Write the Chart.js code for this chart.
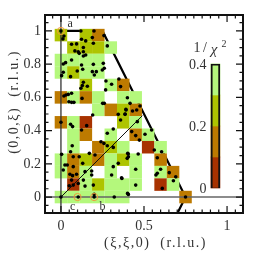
<!DOCTYPE html>
<html>
<head>
<meta charset="utf-8">
<style>
  html, body { margin: 0; padding: 0; background: #fff; }
  canvas { display: block; }
</style>
<script src="https://cdn.jsdelivr.net/npm/chart.js@4/dist/chart.umd.min.js"></script>
</head>
<body>
<canvas id="chart" width="253" height="254"></canvas>
<script>
// Celdas: una fila por cada xi, valores de 1/chi^2 (null = sin celda)
const cellCols = [0, 0.075, 0.15, 0.225, 0.3, 0.375, 0.45, 0.525, 0.6, 0.675, 0.75];
const cellRows = [0.975, 0.9, 0.825, 0.75, 0.675, 0.6, 0.525, 0.45, 0.375, 0.3, 0.225, 0.15, 0.075, 0];
const G = 0.35, Y = 0.25, O = 0.15, R = 0.05, _ = null;
const cellValues = [
    [Y, _, Y, O],
    [_, Y, Y, Y, G],
    [G, G, G, G],
    [G, Y, G, G],
    [_, _, Y, _, G, O],
    [O, G, O, G, _, G, G],
    [_, _, _, G, O, Y, O],
    [O, G, R, _, _, Y, G],
    [_, G, O, _, G, _, O, G],
    [_, G, _, O, Y, G, _, R, G],
    [G, O, Y, O, G, Y, G, _, O],
    [G, O, G, _, G, _, G, _, G, O],
    [_, R, G, Y, G, G, G, _, R, G],
    [G, G, G, G, G, G, _, _, _, _, O]
];

// Puntos medidos
const dotX = [0, .018, .012, .12, .199, .124, .149, .189, .259, .279, .064, .094, .084, .104, .135, .135, .11, .195,
    .064, .028, .014, .149, .135, .014, .004, .124, .131, .098, .195, .255, .261, .249, .189, .213, .201, .058,
    .135, .129, .12, .159, .271, .305, .269, .349, .359, .4, .064, .044, .03, .018, .048, .064, .078, .127, .251, .261,
    .345, .386, .392, .191, 0, .058, .07, .155, .124, .279, .315, .359, .068, .058, .004, .171, .11, .074, .205,
    .241, .259, .279, .315, .345, .402, .406, .038, .024, .014, .054, .07, .094, .074, .131, .145, .185, .185, .305,
    .365, .315, .074, .05, .064, .104, .145, .195, .135, 0, .104, .2, .2, .321, .406,
    .416, .391, .386, .431, .456, .476, .46, .426, .506, .45, .472, .546,
    .562, .606, .58, .58, .572, .6, .652, .691, .677, .61, .45, .45, .367, .401, .75, .465, .405, .399];
const dotY = [1, .97, .952, 1, 1, .95, .94, .96, .972, .91, .92, .922, .88, .875, .9, .875, .865, .926,
    .825, .809, .801, .855, .849, .751, .731, .795, .769, .759, .799, .805, .775, .765, .755, .755, .735, .725,
    .691, .671, .655, .667, .699, .679, .645, .711, .665, .598, .625, .618, .614, .608, .574, .57, .57, .594, .564, .564,
    .498, .498, .524, .494, .45, .438, .424, .43, .404, .384, .41, .464, .309, .273, .257, .263, .243, .243, .253,
    .333, .323, .309, .299, .203, .263, .243, .193, .193, .163, .137, .129, .137, .183, .203, .153, .157, .133, .133,
    .116, .183, .072, .068, .102, .082, .066, .072, .102, 0, 0, 0, .016, 0, .016,
    .564, .528, .5, .518, .524, .548, .454, .394, .378, .37, .343, .404,
    .283, .273, .237, .143, .133, .167, .147, .122, .098, .052, .167, .072, .112, .022, 0, .259, .259, .233];

// Puntos marcados con circulo naranja
const ringX = [0, 0.1, 0.2];
const ringY = [1, 0, 0];

// Lineas guia
const zoneX = [0, 0.25, 0.75, 0.7];
const zoneY = [1, 1, 0, -0.1];
const diagX = [0, 0.49];
const diagY = [0, 0.49];

// Barra de color
const barLow = [0, 0.1, 0.2, 0.3];
const barHigh = [0.1, 0.2, 0.3, 0.4];
const barX = 0.93;
const barLabels = [0, 0.2, 0.4];

// Marcas de los ejes
const xMajor = [0, 0.5, 1];
const yMajor = [0, 0.2, 0.4, 0.6, 0.8, 1];
const minorTicks = [-0.05, 0, 0.05, 0.1, 0.15, 0.2, 0.25, 0.3, 0.35, 0.4, 0.45, 0.5, 0.55, 0.6, 0.65, 0.7, 0.75, 0.8, 0.85, 0.9, 0.95, 1, 1.05];

const serif = '"Liberation Serif", serif';
const textColor = '#333';

function chiColor(v) {
    if (v > 0.3) return '#b4f87c';
    if (v > 0.2) return '#aec400';
    if (v > 0.1) return '#bd7a00';
    return '#a83200';
}

const cells = [];
cellValues.forEach((row, r) => {
    row.forEach((v, c) => {
        if (v !== null) cells.push({ x: cellCols[c], y: cellRows[r], v: v });
    });
});

function pairs(xs, ys) {
    return xs.map((x, i) => ({ x: x, y: ys[i] }));
}

// Marcas hacia adentro, marco y textos sueltos
const framePlugin = {
    id: 'frame',
    afterDatasetsDraw(chart) {
        const ctx = chart.ctx;
        const a = chart.chartArea;
        const sx = chart.scales.x;
        const sy = chart.scales.y;
        const sc = chart.scales.yc;
        ctx.save();
        ctx.strokeStyle = '#111';
        ctx.lineWidth = 1.2;
        minorTicks.forEach(t => {
            const lenX = xMajor.includes(t) ? 7 : 3.5;
            const lenY = yMajor.includes(t) ? 7 : 3.5;
            const px = sx.getPixelForValue(t);
            const py = sy.getPixelForValue(t);
            ctx.beginPath();
            ctx.moveTo(px, a.bottom); ctx.lineTo(px, a.bottom - lenX);
            ctx.moveTo(px, a.top); ctx.lineTo(px, a.top + lenX);
            ctx.moveTo(a.left, py); ctx.lineTo(a.left + lenY, py);
            ctx.moveTo(a.right, py); ctx.lineTo(a.right - lenY, py);
            ctx.stroke();
        });
        ctx.lineWidth = 2;
        ctx.strokeRect(a.left, a.top, a.right - a.left, a.bottom - a.top);

        ctx.fillStyle = textColor;
        ctx.font = '14px ' + serif;
        ctx.textBaseline = 'middle';
        ctx.textAlign = 'right';
        barLabels.forEach(v => {
            ctx.fillText(String(v), sx.getPixelForValue(barX) - 9, sc.getPixelForValue(v) + 1.5);
        });
        ctx.textAlign = 'center';
        ctx.font = '12px ' + serif;
        ctx.fillText('a', sx.getPixelForValue(0.055), sy.getPixelForValue(1.045));
        ctx.fillText('c', sx.getPixelForValue(0.07), sy.getPixelForValue(-0.06));
        ctx.fillText('b', sx.getPixelForValue(0.25), sy.getPixelForValue(-0.06));
        ctx.font = '14px ' + serif;
        ctx.fillText('1', 197, 48);
        ctx.fillText('/', 205, 48);
        ctx.font = 'italic 15px ' + serif;
        ctx.fillText('χ', 214, 50);
        ctx.font = '10px ' + serif;
        ctx.fillText('2', 224, 44);

        // Titulos de los ejes, con letras separadas como en el original
        ctx.font = '14px ' + serif;
        ctx.letterSpacing = '1.5px';
        ctx.fillText('(ξ,ξ,0)  (r.l.u.)', 155.5, 243);
        ctx.translate(14, 102);
        ctx.rotate(-Math.PI / 2);
        ctx.fillText('(0,0,ξ)  (r.l.u.)', 0, 0);
        ctx.restore();
    }
};

new Chart(document.getElementById('chart').getContext('2d'), {
    data: {
        datasets: [
            { type: 'line', label: 'diagonal', data: pairs(diagX, diagY), borderColor: '#111', borderWidth: 1, pointRadius: 0, order: 3 },
            { type: 'line', label: 'eje h', data: pairs([-0.096, 1.096], [0, 0]), borderColor: '#666', borderWidth: 1.5, pointRadius: 0, order: 3 },
            { type: 'line', label: 'eje v', data: pairs([0, 0], [-0.096, 1.096]), borderColor: '#333', borderWidth: 1.3, pointRadius: 0, order: 3 },
            { type: 'scatter', label: 'puntos', data: pairs(dotX, dotY), backgroundColor: '#000', borderWidth: 0, pointRadius: 1.8, order: 2 },
            { type: 'scatter', label: 'marcados', data: pairs(ringX, ringY), backgroundColor: 'rgba(0,0,0,0)', borderColor: '#f09a3c', borderWidth: 1, pointRadius: 3.6, order: 1 },
            {
                type: 'scatter', label: 'celdas', data: cells,
                pointStyle: 'rect', pointRadius: 8.85, borderWidth: 0,
                backgroundColor: cells.map(c => chiColor(c.v)), order: 5
            },
            { type: 'line', label: 'zona', data: pairs(zoneX, zoneY), borderColor: '#000', borderWidth: 2.2, pointRadius: 0, order: 6 },
            {
                type: 'bar', label: 'barra', yAxisID: 'yc', grouped: false, barThickness: 9, order: 4,
                data: barLow.map((lo, i) => ({ x: barX, y: [lo, barHigh[i]] })),
                backgroundColor: barLow.map(lo => chiColor(lo + 0.05)), borderWidth: 0
            },
            {
                type: 'bar', label: 'borde barra', yAxisID: 'yc', grouped: false, barThickness: 9, order: 3,
                data: [{ x: barX, y: [barLow[0], barHigh[3]] }],
                backgroundColor: 'rgba(0,0,0,0)', borderColor: '#111', borderWidth: 1.3
            }
        ]
    },
    options: {
        responsive: false,
        animation: false,
        layout: { padding: { top: 15, right: 10, left: 0, bottom: 0 } },
        plugins: { legend: { display: false }, tooltip: { enabled: false } },
        scales: {
            x: {
                type: 'linear', min: -0.096, max: 1.096, offset: false,
                grid: { display: false, offset: false, drawTicks: false }, border: { display: false },
                afterBuildTicks: s => { s.ticks = xMajor.map(v => ({ value: v })); },
                afterFit: s => { s.height = 41; },
                ticks: { autoSkip: false, maxRotation: 0, padding: 5, color: textColor, font: { family: serif, size: 14 }, callback: v => String(v) }
            },
            y: {
                type: 'linear', min: -0.096, max: 1.096,
                grid: { display: false, drawTicks: false }, border: { display: false },
                afterBuildTicks: s => { s.ticks = yMajor.map(v => ({ value: v })); },
                afterFit: s => { s.width = 45; },
                ticks: { autoSkip: false, padding: 4, color: textColor, font: { family: serif, size: 14 }, callback: v => String(v) }
            },
            yc: {
                type: 'linear', display: false, min: -0.0806, max: 0.558
            }
        }
    },
    plugins: [framePlugin]
});
</script>
</body>
</html>
